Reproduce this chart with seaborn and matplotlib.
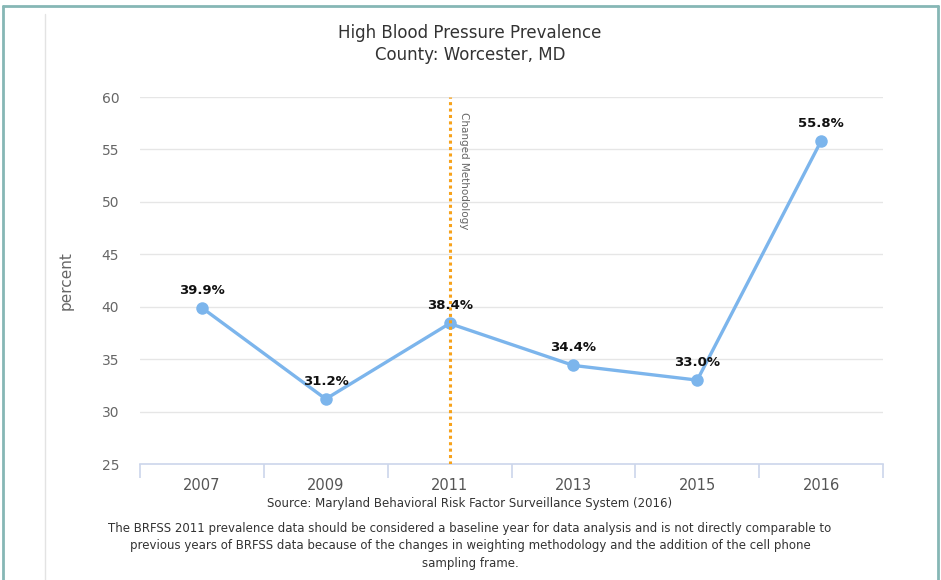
import matplotlib
matplotlib.use("Agg")
import matplotlib.pyplot as plt
import seaborn as sns
import pandas as pd
from matplotlib.lines import Line2D

years = ["2007", "2009", "2011", "2013", "2015", "2016"]
values = [39.9, 31.2, 38.4, 34.4, 33.0, 55.8]
labels = ["39.9%", "31.2%", "38.4%", "34.4%", "33.0%", "55.8%"]
yticks = [25, 30, 35, 40, 45, 50, 55, 60]

sns.set_theme(style="white")
plt.rcParams['font.family'] = ['DejaVu Sans']

df = pd.DataFrame({"year": years, "value": values})
df["pos"] = range(len(years))

fig = plt.figure(figsize=(9.41, 5.80), dpi=100)
ax = fig.add_axes([140/941, 116/580, 743/941, 367/580])

for y in yticks[1:]:
    ax.axhline(y, color="#e6e6e6", lw=1, zorder=0)

sns.lineplot(data=df, x="pos", y="value", ax=ax, color="#7cb5ec", lw=2.4,
             marker="o", markersize=9, markeredgewidth=0, zorder=3)

ax.axvline(2, color="#f7a21b", lw=2.2, ls=(0, (1, 1.1)), zorder=4)
ax.text(2.08, 58.6, "Changed Methodology", rotation=-90, va="top", ha="left",
        fontsize=7.5, color="#666666")

for i, (v, t) in enumerate(zip(values, labels)):
    ax.annotate(t, (i, v), xytext=(0, 8), textcoords="offset points",
                ha="center", va="bottom", fontsize=9.5, fontweight="bold",
                color="#111111", zorder=5)

ax.set_xlim(-0.5, 5.5)
ax.set_ylim(25, 60)
ax.set_yticks(yticks)
ax.set_yticklabels([str(y) for y in yticks], color="#666666", fontsize=10)
ax.set_xticks(range(len(years)))
ax.set_xticklabels(years, color="#555555", fontsize=10.5)
ax.set_xticks([i - 0.5 for i in range(len(years) + 1)], minor=True)
ax.tick_params(axis="x", which="major", length=0, pad=10)
ax.tick_params(axis="x", which="minor", bottom=True, length=10,
               color="#ccd6eb", width=1.2)
ax.tick_params(axis="y", length=0, pad=15)
ax.set_xlabel("")
ax.set_ylabel("percent", color="#666666", fontsize=11, labelpad=20)
for s in ["top", "right", "left"]:
    ax.spines[s].set_visible(False)
ax.spines["bottom"].set_color("#ccd6eb")
ax.spines["bottom"].set_linewidth(1.2)

fig.text(470/941, 1 - 33/580, "High Blood Pressure Prevalence", ha="center",
         va="center", fontsize=12, color="#333333")
fig.text(470/941, 1 - 55/580, "County: Worcester, MD", ha="center",
         va="center", fontsize=12, color="#333333")

fig.text(470/941, 1 - 503/580, "Source: Maryland Behavioral Risk Factor Surveillance System (2016)",
         ha="center", va="center", fontsize=8.5, color="#333333")
notes = ("The BRFSS 2011 prevalence data should be considered a baseline year for data analysis and is not directly comparable to\n"
         "previous years of BRFSS data because of the changes in weighting methodology and the addition of the cell phone\n"
         "sampling frame.")
fig.text(470/941, 1 - 522/580, notes, ha="center", va="top", fontsize=8.5,
         color="#333333", linespacing=1.45)

# frame
fig.add_artist(Line2D([3/941, 3/941], [0, 1 - 6/580], transform=fig.transFigure, color="#86b7b5", lw=2))
fig.add_artist(Line2D([3/941, 938/941], [1 - 6/580, 1 - 6/580], transform=fig.transFigure, color="#86b7b5", lw=2))
fig.add_artist(Line2D([938/941, 938/941], [0, 1 - 6/580], transform=fig.transFigure, color="#86b7b5", lw=2))
fig.add_artist(Line2D([45/941, 45/941], [0, 1 - 14/580], transform=fig.transFigure, color="#e3e3e3", lw=1))

fig.savefig("out.png", dpi=100)
